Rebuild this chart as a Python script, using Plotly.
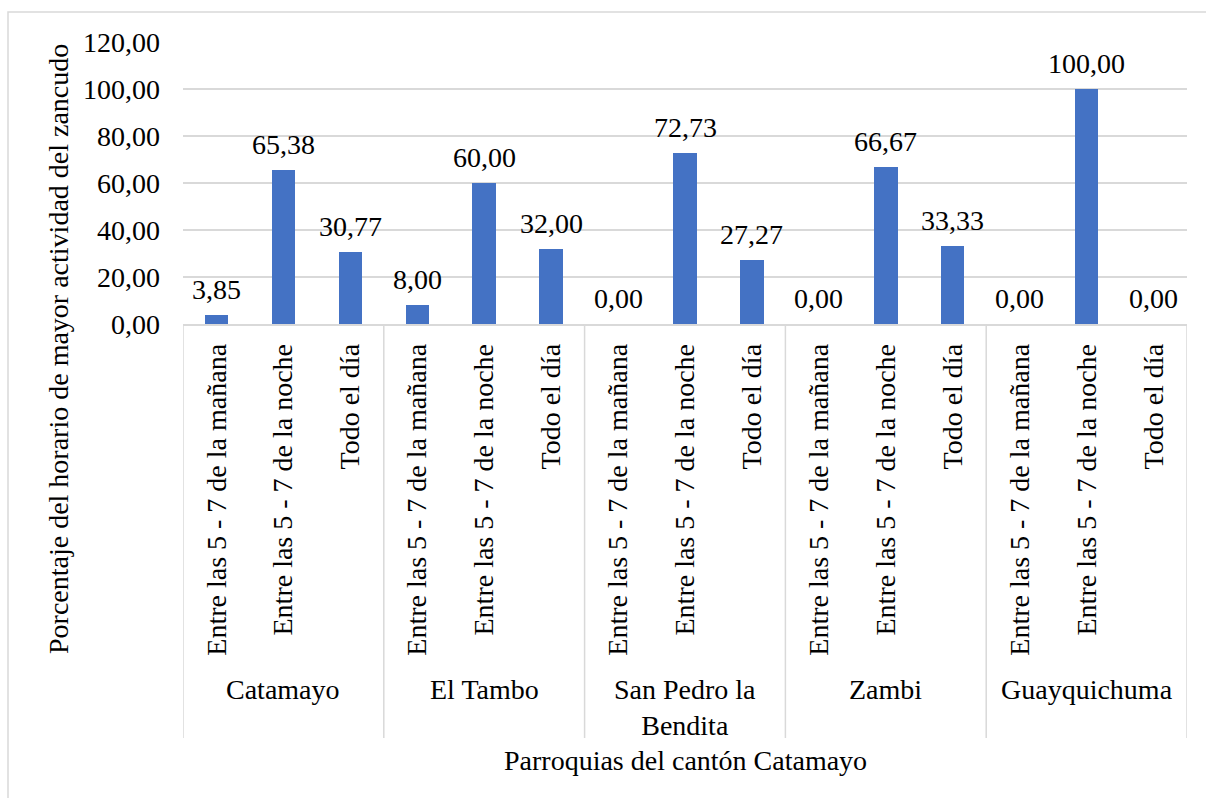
import plotly.graph_objects as go

# Parishes (outer category level) and time slots (inner level)
parroquias = ["Catamayo", "El Tambo", "San Pedro la<br>Bendita", "Zambi", "Guayquichuma"]
horarios = ["Entre las 5 - 7 de la mañana", "Entre las 5 - 7 de la noche", "Todo el día"]

# Percentage per parish, in the order of `horarios`
catamayo = [3.85, 65.38, 30.77]
el_tambo = [8.00, 60.00, 32.00]
san_pedro = [0.00, 72.73, 27.27]
zambi = [0.00, 66.67, 33.33]
guayquichuma = [0.00, 100.00, 0.00]

y_ticks = [0, 20, 40, 60, 80, 100, 120]

series = [catamayo, el_tambo, san_pedro, zambi, guayquichuma]
values = [v for grp in series for v in grp]
labels = [h for _ in parroquias for h in horarios]
xpos = list(range(len(values)))
n_in = len(horarios)

FONT = "Times New Roman"
FS = 28
GRID = "#d9d9d9"


def txt():
    return dict(family=FONT, size=FS, color="black")


# plot-area geometry (pixels) used to place paper-referenced items
W, H = 1206, 798
L, R, T, B = 183, 19, 42, 474
pw, ph = W - L - R, H - T - B


def px_x(p):
    return (p - L) / pw


def px_y(p):
    return (H - B - p) / ph


fig = go.Figure()
fig.add_trace(go.Bar(
    x=xpos, y=values, width=0.35,
    marker=dict(color="#4472C4", line=dict(width=0)),
    showlegend=False, hoverinfo="x+y",
))

shapes = []
# outer chart border
shapes.append(dict(type="rect", xref="paper", yref="paper",
                   x0=px_x(8), x1=px_x(1230), y0=px_y(12), y1=px_y(830),
                   line=dict(color=GRID, width=1.5), layer="below"))
# group dividers on the category axis
for k in range(len(parroquias) + 1):
    xd = k * n_in - 0.5
    shapes.append(dict(type="line", xref="x", yref="paper",
                       x0=xd, x1=xd, y0=0, y1=px_y(738),
                       line=dict(color=GRID, width=1.5)))

annotations = []
# value labels above each bar
for xi, v in zip(xpos, values):
    annotations.append(dict(x=xi, xref="x", y=v, yref="y",
                            xanchor="center", yanchor="bottom", yshift=8,
                            text=f"{v:.2f}".replace(".", ","),
                            showarrow=False, font=txt()))
# parish names under the time-slot labels
for k, name in enumerate(parroquias):
    annotations.append(dict(x=k * n_in + (n_in - 1) / 2, xref="x",
                            y=px_y(672), yref="paper",
                            xanchor="center", yanchor="top",
                            text=name, showarrow=False, font=txt()))
annotations.append(dict(x=0.5, xref="paper", y=px_y(760), yref="paper",
                        xanchor="center", yanchor="middle",
                        text="Parroquias del cantón Catamayo",
                        showarrow=False, font=txt()))
annotations.append(dict(x=px_x(58), xref="paper", y=px_y(349), yref="paper",
                        xanchor="center", yanchor="middle",
                        text="Porcentaje del horario de mayor actividad del zancudo",
                        textangle=-90, showarrow=False, font=txt()))

fig.update_layout(
    width=W, height=H,
    margin=dict(l=L, r=R, t=T, b=B),
    paper_bgcolor="white", plot_bgcolor="white",
    separators=",.",
    font=txt(),
    shapes=shapes, annotations=annotations,
    xaxis=dict(
        tickmode="array", tickvals=xpos, ticktext=labels,
        tickangle=-90, range=[-0.5, len(values) - 0.5],
        showgrid=False, zeroline=False,
        showline=True, linecolor=GRID, linewidth=1.5,
        ticks="", ticklabelstandoff=7,
        tickfont=txt(),
    ),
    yaxis=dict(
        range=[0, 120], tickvals=y_ticks, tickformat=".2f",
        showgrid=True, gridcolor=GRID, gridwidth=1.5,
        zeroline=False, showline=False, ticks="",
        ticklabelstandoff=22,
        tickfont=txt(),
    ),
    bargap=0,
)

fig.write_html("out.html")
